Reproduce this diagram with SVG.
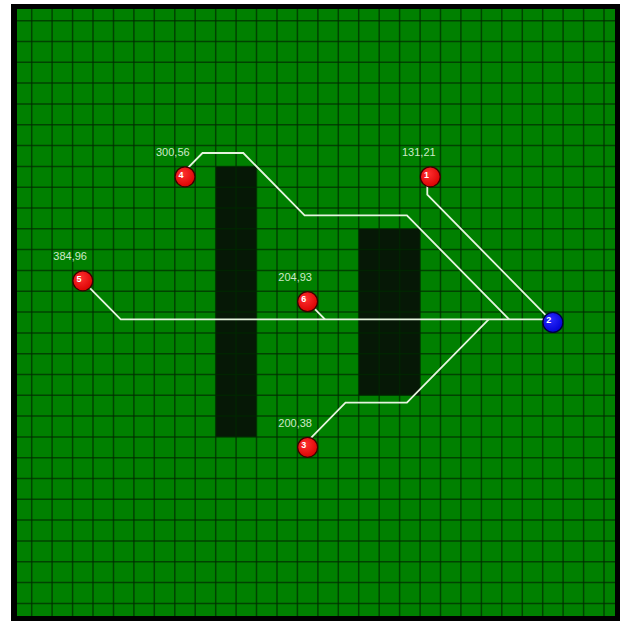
<svg xmlns="http://www.w3.org/2000/svg" width="620" height="621" viewBox="0 0 620 621">
<style>
.grid{stroke:#002a00;stroke-width:1.5;stroke-opacity:0.7;fill:none}
.obst{fill:#061806}
.conn{stroke:#e6f4df;stroke-width:1.8;fill:none;stroke-linejoin:miter}
.nd{stroke:#3a0000;stroke-width:1.3}
.red{fill:url(#gr)}
.blue{fill:url(#gb);stroke:#00003a}
.num{font-family:"Liberation Sans",Arial,sans-serif;font-size:9px;font-weight:bold;fill:#ffffff}
.lbl{font-family:"Liberation Sans",Arial,sans-serif;font-size:11px;fill:#cde9c8}
</style>
<defs>
<radialGradient id="gr" cx="0.4" cy="0.35" r="0.7">
<stop offset="0" stop-color="#ff3030"/>
<stop offset="1" stop-color="#d80000"/>
</radialGradient>
<radialGradient id="gb" cx="0.4" cy="0.35" r="0.7">
<stop offset="0" stop-color="#2a2aff"/>
<stop offset="1" stop-color="#0000d0"/>
</radialGradient>
<clipPath id="field"><rect x="17" y="9" width="598" height="607"/></clipPath>
</defs>
<rect x="0" y="0" width="620" height="621" fill="#ffffff"/>
<rect x="11" y="4" width="609" height="617" fill="#000000"/>
<rect x="17" y="9" width="598" height="607" fill="#008000"/>
<g id="obstacles">
<rect class="obst" x="215.7" y="166.4" width="40.8" height="270.5"/>
<rect class="obst" x="358.7" y="228.8" width="61.4" height="166.5"/>
</g>
<g id="grid" clip-path="url(#field)">
<path class="grid" d="M11.3 9V616M31.7 9V616M52.1 9V616M72.6 9V616M93 9V616M113.5 9V616M133.9 9V616M154.3 9V616M174.8 9V616M195.2 9V616M215.7 9V616M236.1 9V616M256.5 9V616M277 9V616M297.4 9V616M317.9 9V616M338.3 9V616M358.7 9V616M379.2 9V616M399.6 9V616M420.1 9V616M440.5 9V616M460.9 9V616M481.4 9V616M501.8 9V616M522.3 9V616M542.7 9V616M563.1 9V616M583.6 9V616M604 9V616"/>
<path class="grid" d="M17 20.7H615M17 41.5H615M17 62.3H615M17 83.1H615M17 103.9H615M17 124.8H615M17 145.6H615M17 166.4H615M17 187.2H615M17 208H615M17 228.8H615M17 249.6H615M17 270.4H615M17 291.2H615M17 312H615M17 332.9H615M17 353.7H615M17 374.5H615M17 395.3H615M17 416.1H615M17 436.9H615M17 457.7H615M17 478.5H615M17 499.3H615M17 520.1H615M17 540.9H615M17 561.8H615M17 582.6H615M17 603.4H615"/>
</g>
<g id="connectors">
<polyline class="conn" points="182,173.8 202.5,153 243.3,153 304.6,215.4 406.9,215.4 509.1,319.4"/>
<polyline class="conn" points="427.3,173.8 427.3,194.6 549.9,319.4"/>
<polyline class="conn" points="79.8,277.8 120.7,319.4 549.9,319.4"/>
<polyline class="conn" points="304.6,298.6 325,319.4"/>
<polyline class="conn" points="304.6,444.3 345.5,402.7 406.9,402.7 488.7,319.4"/>
</g>
<g id="node1">
<circle class="nd red" cx="430.3" cy="176.8" r="10"/>
<text class="num" x="424" y="177.5">1</text>
<text class="lbl" x="402" y="156">131,21</text>
</g>
<g id="node2">
<circle class="nd blue" cx="552.9" cy="322.4" r="10"/>
<text class="num" x="546.3" y="323.3">2</text>
</g>
<g id="node3">
<circle class="nd red" cx="307.6" cy="447.3" r="10"/>
<text class="num" x="301.2" y="448">3</text>
<text class="lbl" x="278.3" y="427">200,38</text>
</g>
<g id="node4">
<circle class="nd red" cx="185" cy="176.8" r="10"/>
<text class="num" x="178.6" y="177.5">4</text>
<text class="lbl" x="156" y="156">300,56</text>
</g>
<g id="node5">
<circle class="nd red" cx="82.8" cy="280.8" r="10"/>
<text class="num" x="76.4" y="281.5">5</text>
<text class="lbl" x="53.3" y="260">384,96</text>
</g>
<g id="node6">
<circle class="nd red" cx="307.6" cy="301.6" r="10"/>
<text class="num" x="301.2" y="302.3">6</text>
<text class="lbl" x="278.3" y="281">204,93</text>
</g>
</svg>
